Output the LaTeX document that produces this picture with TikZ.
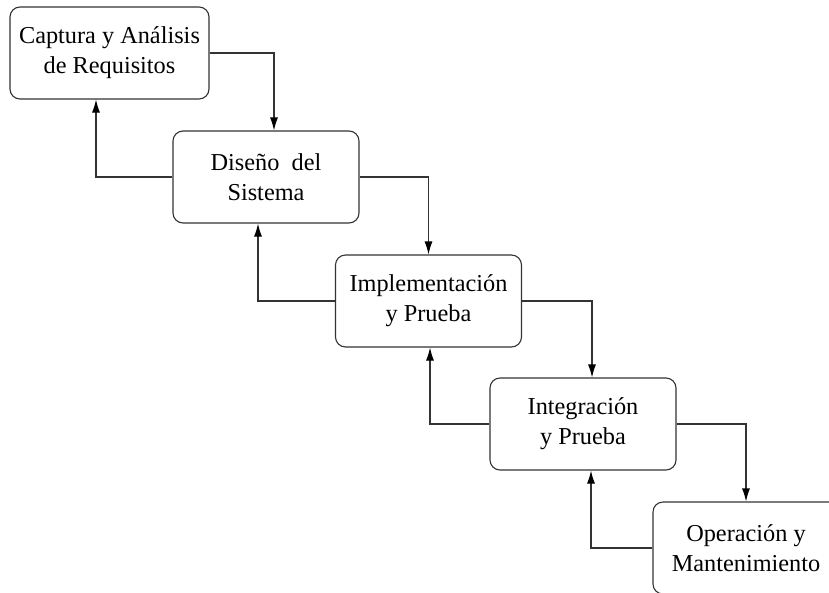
\documentclass[tikz,border=0pt]{standalone}
\usepackage{fontspec}
\setmainfont{Liberation Serif}
\usetikzlibrary{arrows.meta}
\begin{document}
\begin{tikzpicture}[x=1pt,y=-1pt,
  phase/.style={draw=black!80, line width=1.1pt, rounded corners=10pt,
    minimum width=186pt, minimum height=92pt, inner sep=0pt,
    align=center, font=\fontsize{24.3}{30}\selectfont},
  flow/.style={draw=black!80, line width=1.1pt,
    -{Latex[length=13pt,width=8pt,black]}}]
\useasboundingbox (0,0) rectangle (829,592);
\clip (0,0) rectangle (829,592);
\node[phase, minimum width=199pt] (req) at (109.5,53) {Captura y Análisis\\de Requisitos};
\node[phase] (dis) at (266,177) {Diseño\ \ del\\Sistema};
\node[phase] (imp) at (428.5,301) {Implementación\\y Prueba};
\node[phase] (int) at (583,424) {Integración\\y Prueba};
\node[phase] (ope) at (746,548) {Operación y\\Mantenimiento};
% forward cascade
\draw[flow] (req.east) -| ([xshift=8pt]dis.north);
\draw[flow] (dis.east) -| (imp.north);
\draw[flow] (imp.east) -| ([xshift=9pt]int.north);
\draw[flow] (int.east) -| (ope.north);
% feedback to the previous phase
\draw[flow] (dis.west) -| ([xshift=-13.5pt]req.south);
\draw[flow] (imp.west) -| ([xshift=-8pt]dis.south);
\draw[flow] (int.west) -| ([xshift=1.5pt]imp.south);
\draw[flow] (ope.west) -| ([xshift=8pt]int.south);
\end{tikzpicture}
\end{document}
